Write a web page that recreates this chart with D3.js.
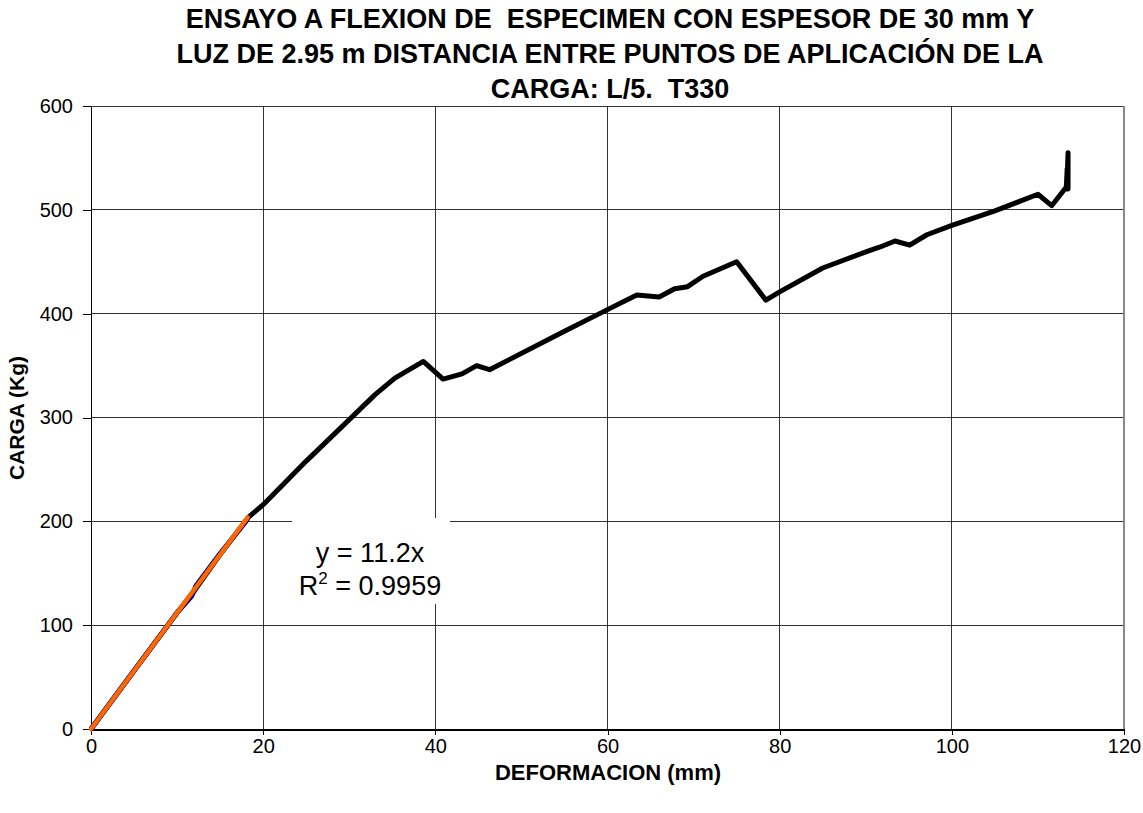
<!DOCTYPE html>
<meta charset="utf-8">
<style>
body { margin: 0; background: #fff; }
svg text { font-family: Arial, "Liberation Sans", sans-serif; white-space: pre; }
.grid line { stroke: #333; stroke-width: 1; shape-rendering: crispEdges; }
.axis path, .axis line { stroke: #000; shape-rendering: crispEdges; }
.axis text { font-size: 20px; fill: #000; }
</style>
<svg width="1143" height="813"></svg>
<script src="https://d3js.org/d3.v7.min.js"></script>
<script>

// black series: deformation (mm) vs load (kg)
var defo = [0, 5, 10, 12, 15, 18.3, 20, 25, 30, 33, 35.3, 38.6, 40.9, 43.1, 44.8, 46.3, 55, 59.3, 63.4, 66.0, 67.8,
            69.3, 71.1, 75.0, 78.4, 80, 85, 90.5, 91.6, 93.4, 95.1, 97.1, 100, 105, 110.0, 111.6, 113.3, 113.4,
            113.5, 113.5, 113.4];
var carga = [0, 56, 112, 133, 168, 204, 216, 258, 298, 322, 338, 354, 337, 342, 350, 346, 383, 401, 418, 416, 424,
             426, 436, 450, 413, 421, 444, 461, 464, 470, 466, 476, 485, 499, 515, 504, 522, 540,
             520, 555, 530];

// blue series: initial elastic segment used for the fit
var defoBlue = [0, 5, 10, 11.7, 12.2, 15, 18.2];
var cargaBlue = [0, 56, 112, 128, 138, 169, 202];

// linear trendline y = 11.2x
var slope = 11.2;
var fitX = [0, 18.2];

var xTicks = [0, 20, 40, 60, 80, 100, 120];
var yTicks = [0, 100, 200, 300, 400, 500, 600];

var titleLines = ["ENSAYO A FLEXION DE  ESPECIMEN CON ESPESOR DE 30 mm Y",
                  "LUZ DE 2.95 m DISTANCIA ENTRE PUNTOS DE APLICACIÓN DE LA",
                  "CARGA: L/5.  T330"];

var svg = d3.select("svg"),
    margin = {top: 106, right: 19, bottom: 84, left: 91},
    width = 1143 - margin.left - margin.right,
    height = 813 - margin.top - margin.bottom;

var x = d3.scaleLinear().domain([0, 120]).range([0, width]);
var y = d3.scaleLinear().domain([0, 600]).range([height, 0]);

var g = svg.append("g")
    .attr("transform", "translate(" + margin.left + "," + margin.top + ")");

// gridlines
var grid = g.append("g").attr("class", "grid");
grid.selectAll(".h").data(yTicks.slice(1)).enter().append("line")
    .attr("x1", 0).attr("x2", width)
    .attr("y1", function(d) { return y(d); }).attr("y2", function(d) { return y(d); });
grid.selectAll(".v").data(xTicks.slice(1)).enter().append("line")
    .attr("y1", 0).attr("y2", height)
    .attr("x1", function(d) { return x(d); }).attr("x2", function(d) { return x(d); });

// plot frame right edge
g.append("line")
    .attr("x1", width).attr("x2", width).attr("y1", 0).attr("y2", height)
    .attr("stroke", "#888").attr("stroke-width", 2);

g.append("g")
    .attr("class", "axis")
    .attr("transform", "translate(0," + height + ")")
    .call(d3.axisBottom(x).tickValues(xTicks).tickSize(6).tickSizeOuter(0).tickPadding(4))
    .call(function(s) { s.select(".domain").attr("stroke", "#666").attr("stroke-width", 2); });

g.append("g")
    .attr("class", "axis")
    .call(d3.axisLeft(y).tickValues(yTicks).tickSize(8).tickSizeOuter(0).tickPadding(10));

var line = d3.line()
    .x(function(d) { return x(d[0]); })
    .y(function(d) { return y(d[1]); });

g.append("path")
    .datum(d3.zip(defo, carga))
    .attr("d", line)
    .attr("fill", "none")
    .attr("stroke", "#000")
    .attr("stroke-width", 5)
    .attr("stroke-linejoin", "round");

g.append("path")
    .datum(d3.zip(defoBlue, cargaBlue))
    .attr("d", line)
    .attr("fill", "none")
    .attr("stroke", "#000080")
    .attr("stroke-width", 5)
    .attr("stroke-linejoin", "round");

g.append("path")
    .datum(fitX.map(function(v) { return [v, slope * v]; }))
    .attr("d", line)
    .attr("fill", "none")
    .attr("stroke", "#ff6600")
    .attr("stroke-width", 4.5)
    .attr("stroke-linecap", "round");

// trendline label
var lab = svg.append("g").attr("transform", "translate(370,0)");
lab.append("rect")
    .attr("x", -78).attr("y", 518).attr("width", 158).attr("height", 86)
    .attr("fill", "#fff");
lab.append("text")
    .attr("y", 562)
    .attr("text-anchor", "middle")
    .style("font-size", "27px")
    .text("y = 11.2x");
var r2 = lab.append("text")
    .attr("y", 595)
    .attr("text-anchor", "middle")
    .style("font-size", "27px");
r2.append("tspan").text("R");
r2.append("tspan").attr("dy", -11).style("font-size", "17px").text("2");
r2.append("tspan").attr("dy", 11).text(" = 0.9959");

// titles
svg.selectAll(".title").data(titleLines).enter().append("text")
    .attr("x", 610)
    .attr("y", function(d, i) { return 28 + i * 35; })
    .attr("text-anchor", "middle")
    .style("font-size", "27px")
    .style("font-weight", "bold")
    .text(function(d) { return d; });

svg.append("text")
    .attr("x", 608)
    .attr("y", 780)
    .attr("text-anchor", "middle")
    .style("font-size", "22px")
    .style("font-weight", "bold")
    .text("DEFORMACION (mm)");

svg.append("text")
    .attr("transform", "translate(24," + 418 + ") rotate(-90)")
    .attr("text-anchor", "middle")
    .style("font-size", "21px")
    .style("font-weight", "bold")
    .text("CARGA (Kg)");

</script>
